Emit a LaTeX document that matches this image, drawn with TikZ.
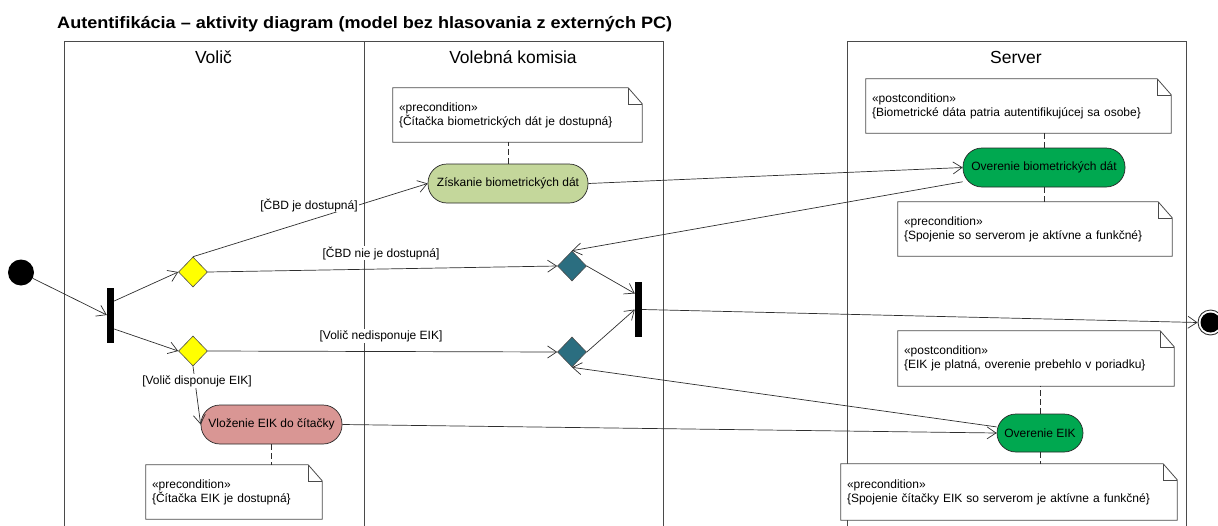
\documentclass[tikz,border=0pt]{standalone}
\usepackage{fontspec}
\setmainfont{Liberation Sans}
\usetikzlibrary{arrows.meta,shapes.geometric}

\definecolor{edgec}{HTML}{2E2E2E}
\definecolor{lanec}{HTML}{4A4A4A}
\definecolor{bioGreen}{HTML}{C4D79B}
\definecolor{srvGreen}{HTML}{00A850}
\definecolor{eikRed}{HTML}{D99694}
\definecolor{mergeTeal}{HTML}{2B6E80}
\definecolor{decYellow}{HTML}{FFFF00}

\begin{document}
\begin{tikzpicture}[x=1pt,y=-1pt,
  lane/.style={draw=lanec, line width=0.9pt},
  lanehead/.style={anchor=base, inner sep=0pt, font=\fontsize{17.5}{20}\selectfont},
  action/.style={rectangle, rounded corners=19pt, draw=black!85, line width=0.7pt,
    minimum height=39pt, inner sep=0pt, font=\fontsize{12}{14}\selectfont},
  decision/.style={diamond, aspect=1, draw=black!70, line width=0.6pt,
    minimum width=29pt, minimum height=30pt, inner sep=0pt},
  bar/.style={rectangle, fill=black, minimum width=7pt, minimum height=55pt, inner sep=0pt},
  note/.style={rectangle, fill=white, inner xsep=6pt, inner ysep=0pt, align=left,
    font=\fontsize{12}{14}\selectfont},
  noteline/.style={draw=lanec, line width=0.8pt, line join=miter},
  flow/.style={draw=edgec, line width=0.7pt,
    -{Straight Barb[length=9pt,width=12pt,line width=0.7pt]}},
  anchorline/.style={draw=edgec, line width=0.8pt, dash pattern=on 6pt off 3pt},
  guard/.style={fill=white, inner sep=1pt, font=\fontsize{12}{14}\selectfont}
]
\useasboundingbox (0,0) rectangle (1218,525);

% swimlanes
\draw[lane] (64,527) -- (64,41) -- (663,41) -- (663,527);
\draw[lane] (364,41) -- (364,527);
\draw[lane] (847,527) -- (847,41) -- (1186,41) -- (1186,527);

% title and lane headers
\node[anchor=base west, inner sep=0pt, font=\bfseries\fontsize{16.5}{19}\selectfont]
  (title) at (57,28) {\scalebox{1.096}[1]{Autentifikácia – aktivity diagram (model bez hlasovania z externých PC)}};
\node[lanehead] (hvolic) at (213.5,63) {Volič};
\node[lanehead] (hkomisia) at (513,63) {Volebná komisia};
\node[lanehead] (hserver) at (1016,63) {Server};

% notes (text and white ground)
\node[note, text width=237pt, minimum height=54pt] (n1) at (517.5,115)
  {«precondition»\\\{Čítačka biometrických dát je dostupná\}};
\node[note, text width=293pt, minimum height=54pt] (n2) at (1018.5,106)
  {«postcondition»\\\{Biometrické dáta patria autentifikujúcej sa osobe\}};
\node[note, text width=262pt, minimum height=54pt] (n3) at (1035,229)
  {«precondition»\\\{Spojenie so serverom je aktívne a funkčné\}};
\node[note, text width=164pt, minimum height=54pt] (n4) at (234,492)
  {«precondition»\\\{Čítačka EIK je dostupná\}};
\node[note, text width=264pt, minimum height=55pt] (n5) at (1036,358.5)
  {«postcondition»\\\{EIK je platná, overenie prebehlo v poriadku\}};
\node[note, text width=324pt, minimum height=56pt] (n6) at (1009,492)
  {«precondition»\\\{Spojenie čítačky EIK so serverom je aktívne a funkčné\}};

% note outlines with folded corner
\foreach \n in {n1,n2,n3,n4,n5,n6} {
  \draw[noteline]
    (\n.north west) -- ([xshift=-14pt]\n.north east)
    -- ([yshift=-16pt]\n.north east) -- (\n.south east)
    -- (\n.south west) -- cycle;
  \draw[noteline, line width=0.6pt]
    ([xshift=-14pt]\n.north east) -- ([xshift=-14pt,yshift=-16pt]\n.north east)
    -- ([yshift=-16pt]\n.north east);
}

% control nodes
\node[circle, fill=black, minimum size=26pt, inner sep=0pt] (init) at (21,272.5) {};
\node[bar] (fork) at (110.5,315) {};
\node[bar] (join) at (638.5,309.5) {};
\node[decision, fill=decYellow] (yd1) at (193,272) {};
\node[decision, fill=decYellow] (yd2) at (193,351) {};
\node[decision, fill=mergeTeal] (td1) at (572,266) {};
\node[decision, fill=mergeTeal] (td2) at (572,352) {};
\node[circle, draw=black!80, line width=0.9pt, fill=white, minimum size=25pt, inner sep=0pt] (fin) at (1210.5,322.5) {};
\fill[black] (fin.center) circle[radius=10pt];

% actions
\node[action, fill=bioGreen, minimum width=160pt] (zisk) at (508,183.5) {Získanie biometrických dát};
\node[action, fill=srvGreen, minimum width=162pt] (obd) at (1044,167.5) {Overenie biometrických dát};
\node[action, fill=eikRed, minimum width=141pt] (vloz) at (271.5,424.5) {Vloženie EIK do čítačky};
\node[action, fill=srvGreen, minimum width=86pt, minimum height=38pt] (oeik) at (1040,433) {Overenie EIK};

% note anchors
\draw[anchorline] (zisk.north) -- (zisk.north |- n1.south);
\draw[anchorline] (obd.north) -- (obd.north |- n2.south);
\draw[anchorline] (obd.south) -- (obd.south |- n3.north);
\draw[anchorline] (vloz.south) -- (vloz.south |- n4.north);
\draw[anchorline] (oeik.north) -- (oeik.north |- n5.south);
\draw[anchorline] (oeik.south) -- (oeik.south |- n6.north);

% control flows
\draw[flow] (init) -- (fork.west);
\draw[flow] ([yshift=14pt]fork.east) -- (yd1.west);
\draw[flow] ([yshift=-14pt]fork.east) -- (yd2.west);
\draw[flow] (yd1.north) -- (zisk.west);
\draw[flow] (yd1.east) -- (td1.west);
\draw[flow] (yd2.east) -- (td2.west);
\draw[flow] (yd2.south) -- (vloz.west);
\draw[flow] (zisk.east) -- (obd.west);
\draw[flow] (obd) -- (td1.north);
\draw[flow] (td1.east) -- ([yshift=16pt]join.west);
\draw[flow] (td2.east) -- (join.west);
\draw[flow] (join.east) -- (fin.west);
\draw[flow] (vloz.east) -- (oeik.west);
\draw[flow] (oeik) -- (td2.south);

% guards
\node[guard] (g1) at (309,205) {[ČBD je dostupná]};
\node[guard] (g2) at (381,253) {[ČBD nie je dostupná]};
\node[guard] (g3) at (381,336) {[Volič nedisponuje EIK]};
\node[guard] (g4) at (197,381) {[Volič disponuje EIK]};
\end{tikzpicture}
\end{document}
